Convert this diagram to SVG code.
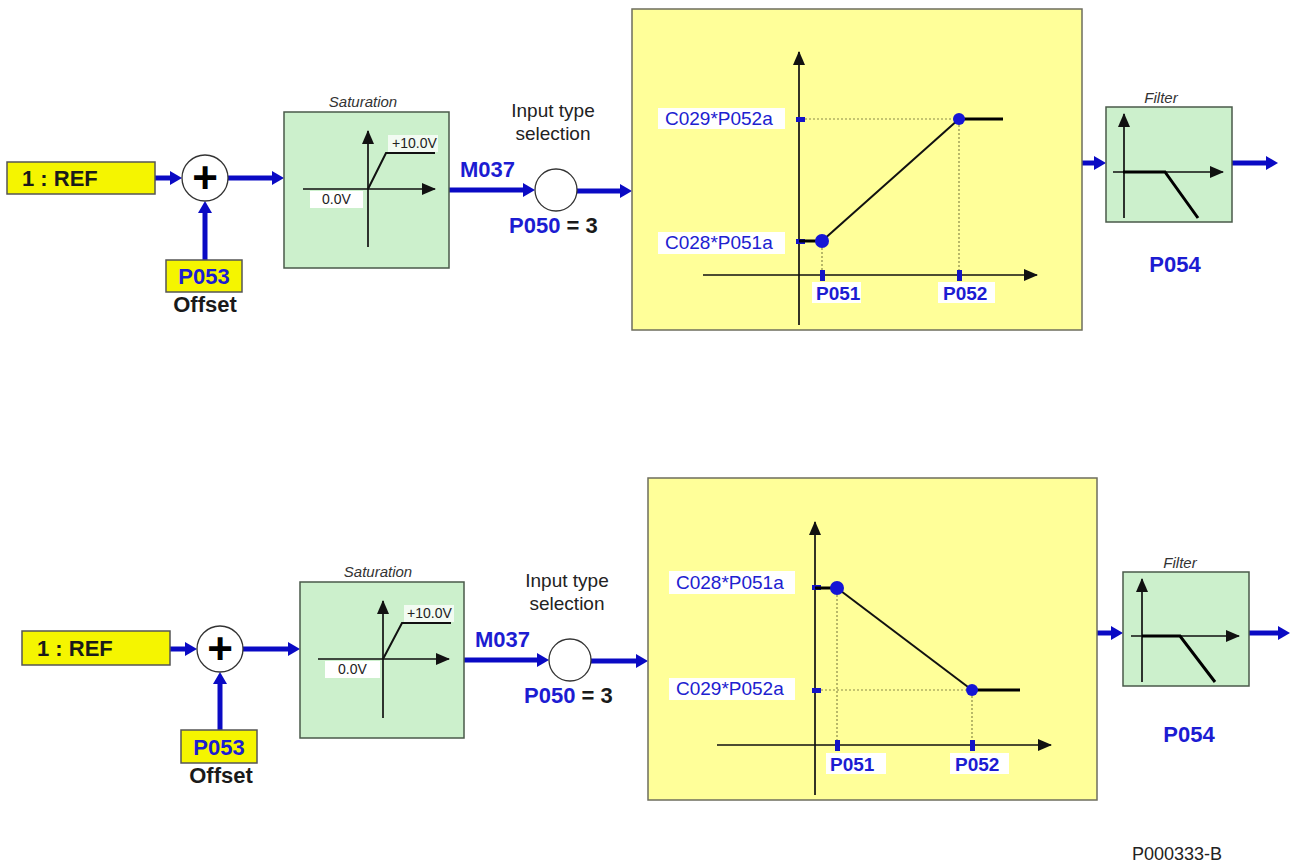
<svg xmlns="http://www.w3.org/2000/svg" width="1294" height="864" viewBox="0 0 1294 864">
<defs>
<style>
text{font-family:"Liberation Sans",Arial,sans-serif}
.ref{fill:#f5f500;stroke:#555;stroke-width:1.5}
.green{fill:#ccf0cc;stroke:#4a5a4a;stroke-width:1.5}
.yel{fill:#ffff99;stroke:#6e6e5e;stroke-width:1.5}
.circ{fill:#fff;stroke:#333;stroke-width:1.3}
.bigb{font-weight:bold;font-size:22px}
.blue{fill:#1c1cd2}
.dark{fill:#1a1a1a}
.ital{font-style:italic;font-size:15px;fill:#333}
.small{font-size:14px;fill:#222}
.lbl{font-size:19px;fill:#2020d0}
.tl{font-weight:bold;font-size:19px;fill:#1c1cd2}
.ax{stroke:#111;stroke-width:1.7;fill:none}
.thk{stroke:#000;stroke-width:3;fill:none}
.ln{stroke:#111;stroke-width:2;fill:none}
.dot{stroke:#8a8a4a;stroke-width:1.2;stroke-dasharray:2,2;fill:none}
.flow{stroke:#0a0ac4;stroke-width:5;fill:none}
.tick{fill:#1414c8}
.pt{fill:#1515d5}
.wbg{fill:#fff}
</style>
<marker id="bh" markerUnits="userSpaceOnUse" markerWidth="12" markerHeight="14" refX="2" refY="7" orient="auto">
<path d="M0,0 L12,7 L0,14 z" fill="#0a0ac4"/>
</marker>
<marker id="ah" markerUnits="userSpaceOnUse" markerWidth="14" markerHeight="12" refX="13" refY="6" orient="auto">
<path d="M0,0 L14,6 L0,12 z" fill="#111"/>
</marker>
</defs>
<rect width="1294" height="864" fill="#fff"/>

<!-- connectors -->
<g id="connectors">
<line class="flow" x1="155" y1="178" x2="172" y2="178" marker-end="url(#bh)"/>
<line class="flow" x1="228" y1="178" x2="274" y2="178" marker-end="url(#bh)"/>
<line class="flow" x1="205" y1="260" x2="205" y2="211" marker-end="url(#bh)"/>
<line class="flow" x1="449" y1="190" x2="525" y2="190" marker-end="url(#bh)"/>
<line class="flow" x1="577" y1="191" x2="622" y2="191" marker-end="url(#bh)"/>
<line class="flow" x1="1082" y1="163" x2="1096" y2="163" marker-end="url(#bh)"/>
<line class="flow" x1="1232" y1="163" x2="1268" y2="163" marker-end="url(#bh)"/>

<line class="flow" x1="170" y1="649" x2="187" y2="649" marker-end="url(#bh)"/>
<line class="flow" x1="243" y1="649" x2="290" y2="649" marker-end="url(#bh)"/>
<line class="flow" x1="220" y1="730" x2="220" y2="682" marker-end="url(#bh)"/>
<line class="flow" x1="464" y1="660" x2="539" y2="660" marker-end="url(#bh)"/>
<line class="flow" x1="591" y1="661" x2="638" y2="661" marker-end="url(#bh)"/>
<line class="flow" x1="1097" y1="633" x2="1113" y2="633" marker-end="url(#bh)"/>
<line class="flow" x1="1249" y1="633" x2="1280" y2="633" marker-end="url(#bh)"/>
</g>

<!-- TOP ROW -->
<g id="ref1">
<rect class="ref" x="7" y="162" width="148" height="32"/>
<text class="bigb dark" x="22" y="186">1 : REF</text>
</g>
<g id="sum1">
<circle class="circ" cx="205" cy="178" r="23"/>
<text x="205" y="193" text-anchor="middle" font-weight="bold" font-size="44" fill="#000">+</text>
</g>
<g id="p053_1">
<rect class="ref" x="166" y="260" width="76" height="32"/>
<text class="bigb blue" x="204" y="284" text-anchor="middle">P053</text>
<text class="bigb dark" x="205" y="312" text-anchor="middle">Offset</text>
</g>
<g id="sat1">
<text class="ital" x="363" y="107" text-anchor="middle" font-size="16">Saturation</text>
<rect class="green" x="284" y="112" width="165" height="156"/>
<rect class="wbg" x="388" y="135" width="50" height="17" fill-opacity="0.75"/>
<rect class="wbg" x="310" y="191" width="53" height="17"/>
<line class="ax" x1="368" y1="247" x2="368" y2="131" marker-end="url(#ah)"/>
<line class="ax" x1="303" y1="189" x2="435" y2="189" marker-end="url(#ah)"/>
<polyline class="ln" points="368,189 386,153 435,153"/>
<text class="small" x="392" y="148">+10.0V</text>
<text class="small" x="322" y="204">0.0V</text>
</g>
<g id="m037_1">
<text class="bigb blue" x="460" y="177">M037</text>
</g>
<g id="sel1">
<text x="553" y="117" text-anchor="middle" font-size="19" fill="#222">Input type</text>
<text x="553" y="140" text-anchor="middle" font-size="19" fill="#222">selection</text>
<circle class="circ" cx="556" cy="190" r="21"/>
<text class="bigb" x="509" y="233"><tspan class="blue">P050</tspan><tspan class="dark"> = 3</tspan></text>
</g>
<g id="graph1">
<rect class="yel" x="632" y="9" width="450" height="321"/>
<line class="ax" x1="799" y1="325" x2="799" y2="52" marker-end="url(#ah)"/>
<line class="ax" x1="703" y1="275" x2="1037" y2="275" marker-end="url(#ah)"/>
<line class="dot" x1="805" y1="119" x2="959" y2="119"/>
<line class="dot" x1="959" y1="125" x2="959" y2="275"/>
<line class="dot" x1="822" y1="248" x2="822" y2="275"/>
<rect class="wbg" x="658" y="108" width="127" height="21"/>
<text class="lbl" x="665" y="125">C029*P052a</text>
<rect class="wbg" x="658" y="232" width="127" height="22"/>
<text class="lbl" x="665" y="249">C028*P051a</text>
<rect class="tick" x="796" y="117" width="9" height="5"/>
<rect class="tick" x="796" y="239" width="9" height="5"/>
<line class="thk" x1="799" y1="241" x2="822" y2="241"/>
<line class="ln" x1="822" y1="241" x2="959" y2="119"/>
<line class="thk" x1="959" y1="119" x2="1003" y2="119"/>
<circle class="pt" cx="822" cy="241" r="7"/>
<circle class="pt" cx="959" cy="119" r="6"/>
<rect class="tick" x="820" y="270" width="5" height="11"/>
<rect class="tick" x="957" y="270" width="5" height="11"/>
<rect class="wbg" x="812" y="282" width="49" height="21"/>
<text class="tl" x="816" y="300">P051</text>
<rect class="wbg" x="938" y="282" width="57" height="21"/>
<text class="tl" x="943" y="300">P052</text>
</g>
<g id="filter1">
<text class="ital" x="1161" y="103" text-anchor="middle">Filter</text>
<rect class="green" x="1106" y="107" width="126" height="115"/>
<line class="ax" x1="1124" y1="218" x2="1124" y2="114" marker-end="url(#ah)"/>
<line class="ax" x1="1113" y1="172" x2="1223" y2="172" marker-end="url(#ah)"/>
<polyline class="thk" points="1123,172 1165,172 1198,218"/>
<text class="bigb blue" x="1175" y="272" text-anchor="middle">P054</text>
</g>

<!-- BOTTOM ROW -->
<g id="ref2">
<rect class="ref" x="22" y="631" width="148" height="34"/>
<text class="bigb dark" x="37" y="656">1 : REF</text>
</g>
<g id="sum2">
<circle class="circ" cx="220" cy="649" r="23"/>
<text x="220" y="664" text-anchor="middle" font-weight="bold" font-size="44" fill="#000">+</text>
</g>
<g id="p053_2">
<rect class="ref" x="181" y="730" width="76" height="33"/>
<text class="bigb blue" x="219" y="755" text-anchor="middle">P053</text>
<text class="bigb dark" x="221" y="783" text-anchor="middle">Offset</text>
</g>
<g id="sat2">
<text class="ital" x="378" y="577" text-anchor="middle" font-size="16">Saturation</text>
<rect class="green" x="300" y="582" width="164" height="156"/>
<rect class="wbg" x="404" y="605" width="50" height="17" fill-opacity="0.75"/>
<rect class="wbg" x="325" y="661" width="55" height="17"/>
<line class="ax" x1="383" y1="718" x2="383" y2="601" marker-end="url(#ah)"/>
<line class="ax" x1="318" y1="659" x2="449" y2="659" marker-end="url(#ah)"/>
<polyline class="ln" points="383,659 402,623 451,623"/>
<text class="small" x="407" y="618">+10.0V</text>
<text class="small" x="338" y="674">0.0V</text>
</g>
<g id="m037_2">
<text class="bigb blue" x="475" y="647">M037</text>
</g>
<g id="sel2">
<text x="567" y="587" text-anchor="middle" font-size="19" fill="#222">Input type</text>
<text x="567" y="610" text-anchor="middle" font-size="19" fill="#222">selection</text>
<circle class="circ" cx="570" cy="660" r="21"/>
<text class="bigb" x="524" y="703"><tspan class="blue">P050</tspan><tspan class="dark"> = 3</tspan></text>
</g>
<g id="graph2">
<rect class="yel" x="648" y="478" width="449" height="322"/>
<line class="ax" x1="815" y1="795" x2="815" y2="522" marker-end="url(#ah)"/>
<line class="ax" x1="717" y1="745" x2="1051" y2="745" marker-end="url(#ah)"/>
<line class="dot" x1="821" y1="690" x2="966" y2="690"/>
<line class="dot" x1="837" y1="595" x2="837" y2="745"/>
<line class="dot" x1="972" y1="696" x2="972" y2="745"/>
<rect class="wbg" x="669" y="571" width="126" height="23"/>
<text class="lbl" x="676" y="589">C028*P051a</text>
<rect class="wbg" x="669" y="678" width="126" height="22"/>
<text class="lbl" x="676" y="695">C029*P052a</text>
<rect class="tick" x="812" y="585" width="9" height="5"/>
<rect class="tick" x="812" y="688" width="9" height="5"/>
<line class="thk" x1="815" y1="588" x2="837" y2="588"/>
<line class="ln" x1="837" y1="588" x2="972" y2="690"/>
<line class="thk" x1="972" y1="690" x2="1020" y2="690"/>
<circle class="pt" cx="837" cy="588" r="7"/>
<circle class="pt" cx="972" cy="690" r="6"/>
<rect class="tick" x="835" y="740" width="5" height="11"/>
<rect class="tick" x="970" y="740" width="5" height="11"/>
<rect class="wbg" x="826" y="753" width="60" height="21"/>
<text class="tl" x="830" y="771">P051</text>
<rect class="wbg" x="950" y="753" width="59" height="21"/>
<text class="tl" x="955" y="771">P052</text>
</g>
<g id="filter2">
<text class="ital" x="1180" y="568" text-anchor="middle">Filter</text>
<rect class="green" x="1123" y="572" width="126" height="114"/>
<line class="ax" x1="1142" y1="682" x2="1142" y2="579" marker-end="url(#ah)"/>
<line class="ax" x1="1131" y1="636" x2="1239" y2="636" marker-end="url(#ah)"/>
<polyline class="thk" points="1142,636 1180,636 1215,682"/>
<text class="bigb blue" x="1189" y="742" text-anchor="middle">P054</text>
</g>
<g id="code">
<text x="1132" y="860" font-size="18" fill="#222">P000333-B</text>
</g>
</svg>
